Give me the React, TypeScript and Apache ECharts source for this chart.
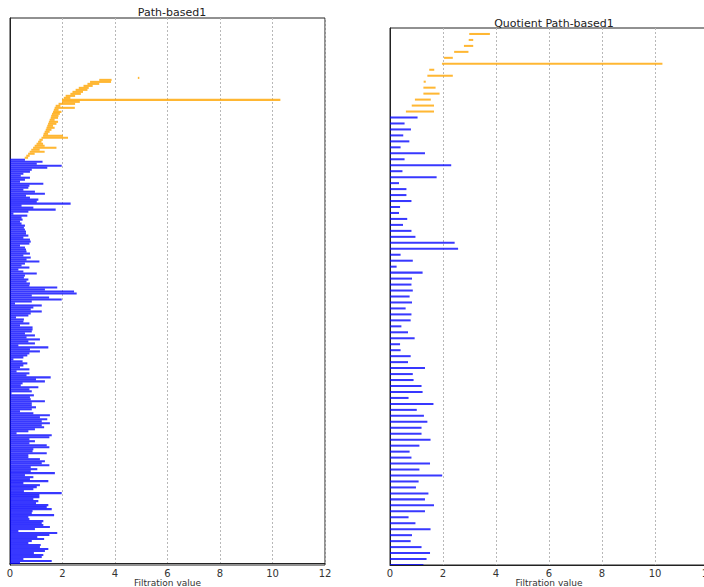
import React, { useEffect, useRef } from "react";
import * as echarts from "echarts";

// ---------- data (lists read top-to-bottom as drawn) ----------
const leftTitle = "Path-based1";
const rightTitle = "Quotient Path-based1";
const xName = "Filtration value";
const xMin = 0;
const xMax = 12;
const xStep = 2;

// Left panel, H1 (orange) bars: births / deaths
const leftH1Births = [
  4.87, 3.4, 3.05, 2.95, 2.8, 2.62, 2.5, 2.38, 2.3, 2.12, 2.05, 1.98, 1.98, 1.85,
  1.74, 1.7, 1.67, 1.64, 1.6, 1.57, 1.55, 1.51, 1.48, 1.45, 1.42, 1.39, 1.36,
  1.32, 1.28, 1.26, 1.2, 1.12, 1.07, 1.01, 0.94, 0.88, 0.81, 0.75, 0.69, 0.62, 0.56,
];
const leftH1Deaths = [
  4.92, 3.87, 3.85, 3.4, 3.15, 3.0, 2.95, 2.78, 2.7, 2.48, 2.3, 10.3, 2.66, 2.48,
  1.92, 2.47, 1.85, 1.96, 1.9, 1.85, 1.83, 1.7, 1.83, 1.77, 1.64, 1.7, 1.58,
  1.51, 1.45, 2.02, 2.21, 1.25, 1.2, 1.26, 1.32, 1.77, 1.13, 1.32, 0.94, 0.75, 0.69,
];
// Left panel, H0 (blue) bars: deaths (all born at 0)
const leftH0Deaths = [
  0.57, 1.24, 1.02, 1.97, 1.42, 0.83, 0.76, 0.51, 0.41, 0.76,
  0.57, 0.38, 1.27, 0.74, 0.7, 0.51, 0.95, 1.33, 0.61, 0.76,
  1.08, 1.02, 2.31, 0.44, 0.89, 1.74, 0.7, 0.13, 0.66, 0.44,
  0.48, 0.38, 0.44, 0.57, 0.53, 0.57, 0.61, 0.61, 0.7, 0.51,
  0.76, 0.79, 0.74, 0.38, 0.57, 0.61, 0.63, 0.76, 0.51, 0.79,
  0.63, 1.12, 0.57, 0.44, 0.74, 0.32, 0.51, 1.02, 0.57, 0.53,
  0.7, 0.63, 0.76, 0.74, 1.8, 1.33, 2.44,
  2.54, 0.83, 1.49, 1.97, 0.83, 0.19, 1.21, 0.89, 0.79, 1.21,
  0.79, 0.7, 0.23, 0.53, 0.51, 0.74, 0.38, 0.86, 0.86, 0.83,
  0.57, 0.95, 0.63, 1.14, 0.7, 0.95, 0.32, 1.46, 0.76, 1.14,
  0.74, 0.66, 0.51, 0.13, 0.48, 0.66, 0.51, 0.38, 0.74, 0.25,
  0.74, 0.63, 1.55, 0.99, 1.33, 0.48, 0.41, 1.08, 0.74, 0.83,
  0.06, 0.91, 0.76, 0.79, 1.33, 0.83, 0.83, 0.99, 0.83, 0.38,
  0.89, 1.52, 1.14, 1.42, 1.21, 1.52,
  1.21, 1.3, 0.95, 0.7, 0.25, 1.59, 1.5, 0.74, 0.95, 0.74,
  1.4, 1.5, 0.89, 0.86, 1.4, 0.7, 0.7, 1.14, 1.33, 1.21,
  1.5, 0.79, 1.04, 0.79, 1.71, 0.57, 0.89, 0.76, 1.46, 0.51,
  1.14, 1.02, 0.89, 0.53, 1.97, 1.12, 1.12, 0.89, 1.08, 0.99,
  1.46, 1.4, 1.59, 0.86, 0.83, 1.68, 0.7, 0.74, 1.27, 1.21,
  1.27, 1.52, 0.95, 0.32, 1.8, 1.5, 1.04, 1.3, 0.83, 0.7,
  1.17, 1.14, 1.46, 1.33, 0.91, 1.27, 1.21, 0.51, 1.59, 0.38,
];

// Right panel, H1 (orange) bars
const rightH1Births = [2.99, 2.97, 2.79, 2.42, 2.04, 1.96, 1.48, 1.41, 1.27, 1.26, 1.26, 0.94, 0.82, 0.6];
const rightH1Deaths = [3.77, 3.14, 3.14, 2.96, 2.37, 10.28, 1.67, 2.37, 1.35, 1.72, 1.87, 1.54, 1.66, 1.66];
// Right panel, H0 (blue) bars: deaths
const rightH0Deaths = [
  1.04, 0.55, 0.79, 0.5, 0.73, 0.4, 1.32, 0.55, 2.31, 0.47,
  1.76, 0.34, 0.62, 0.62, 0.81, 0.38, 0.34, 0.65, 0.49, 0.81,
  0.96, 2.44, 2.57, 0.4, 0.86, 0.25, 1.23, 0.83, 0.81, 0.86,
  0.74, 0.83, 0.59, 0.81, 0.78, 0.43, 0.68, 0.93,
  0.38, 0.4, 0.78, 0.68, 1.32, 0.86, 0.89, 1.19, 1.23, 0.7,
  1.64, 1.01, 1.28, 1.41, 1.19, 1.19, 1.53, 1.11, 0.74, 0.81,
  1.51, 1.11, 1.97, 1.08, 0.98, 1.45, 1.32, 1.66, 1.32, 0.7,
  0.96, 1.53, 0.83, 0.78, 1.19, 1.51, 1.38, 1.26,
];

const BLUE = "rgba(0,0,255,0.78)";
const ORANGE = "rgba(255,165,0,0.8)";

function buildRows(h1b: number[], h1d: number[], h0d: number[]) {
  const total = h1b.length + h0d.length;
  const rows: number[][] = [];
  h1b.forEach((b, i) => rows.push([b, h1d[i], total - 1 - i, 1]));
  h0d.forEach((d, i) => rows.push([0, d, total - 1 - h1b.length - i, 0]));
  return { rows, total };
}

const makeRender = (factor: number, minW: number) => (_p: any, api: any) => {
  const b = api.value(0);
  const d = api.value(1);
  const r = api.value(2);
  const dim = api.value(3);
  const s = api.coord([b, r]);
  const e = api.coord([d, r]);
  const h = api.size([0, 1])[1] * factor;
  return {
    type: "rect",
    shape: { x: s[0], y: s[1] - h / 2, width: Math.max(e[0] - s[0], minW), height: h },
    style: { fill: dim ? ORANGE : BLUE },
  };
};

export default function App() {
  const ref = useRef<HTMLDivElement>(null);
  useEffect(() => {
    if (!ref.current) return;
    const chart = echarts.init(ref.current, undefined, { renderer: "svg" });
    const L = buildRows(leftH1Births, leftH1Deaths, leftH0Deaths);
    const R = buildRows(rightH1Births, rightH1Deaths, rightH0Deaths);
    const font = "DejaVu Sans";
    const xAxisBase = {
      type: "value",
      min: xMin,
      max: xMax,
      interval: xStep,
      name: xName,
      nameLocation: "middle",
      nameGap: 13,
      nameMoveOverlap: false,
      nameTextStyle: { fontFamily: font, fontSize: 9, color: "#333" },
      axisLine: { show: true, lineStyle: { color: "#222", width: 1 } },
      axisTick: { show: false },
      axisLabel: { fontFamily: font, fontSize: 10, color: "#333", margin: 3 },
      splitLine: { show: true, lineStyle: { color: "#b8b8b8", type: [2, 2], width: 1 } },
    };
    const yAxisBase = {
      type: "value",
      axisLine: { show: true, lineStyle: { color: "#222", width: 1 } },
      axisTick: { show: false },
      axisLabel: { show: false },
      splitLine: { show: false },
    };
    chart.setOption({
      animation: false,
      backgroundColor: "#fff",
      title: [
        {
          text: leftTitle,
          left: 167,
          top: 2,
          textAlign: "center",
          textStyle: { fontFamily: font, fontSize: 11, fontWeight: "normal", color: "#222" },
        },
        {
          text: rightTitle,
          left: 549,
          top: 13,
          textAlign: "center",
          textStyle: { fontFamily: font, fontSize: 11, fontWeight: "normal", color: "#222" },
        },
      ],
      grid: [
        { left: 10, top: 18, width: 315, height: 547, show: true, borderColor: "#222", borderWidth: 1, backgroundColor: "transparent", outerBoundsMode: "none", containLabel: false },
        { left: 390, top: 28, width: 318, height: 537, show: true, borderColor: "#222", borderWidth: 1, backgroundColor: "transparent", outerBoundsMode: "none", containLabel: false },
      ],
      xAxis: [
        { ...xAxisBase, gridIndex: 0 },
        { ...xAxisBase, gridIndex: 1 },
      ],
      yAxis: [
        { ...yAxisBase, gridIndex: 0, min: -1, max: L.total + 29 },
        { ...yAxisBase, gridIndex: 1, min: 0, max: R.total },
      ],
      series: [
        {
          type: "custom",
          xAxisIndex: 0,
          yAxisIndex: 0,
          renderItem: makeRender(1.05, 1.5),
          encode: { x: [0, 1], y: 2 },
          data: L.rows,
          clip: true,
        },
        {
          type: "custom",
          xAxisIndex: 1,
          yAxisIndex: 1,
          renderItem: makeRender(0.34, 1.5),
          encode: { x: [0, 1], y: 2 },
          data: R.rows,
          clip: true,
        },
      ],
    });
    return () => chart.dispose();
  }, []);
  return (
    <div
      ref={ref}
      style={{ position: "fixed", left: 0, top: 0, width: 704, height: 587, background: "#fff" }}
    />
  );
}
